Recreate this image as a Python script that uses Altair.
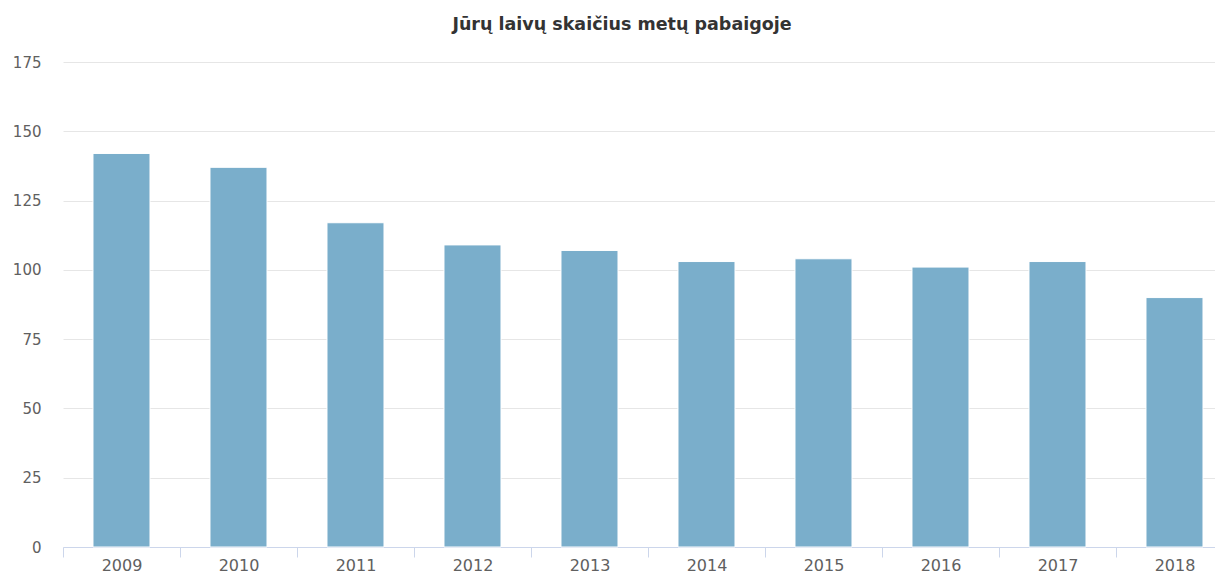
import altair as alt
import pandas as pd

years = [2009, 2010, 2011, 2012, 2013, 2014, 2015, 2016, 2017, 2018]
ships = [142, 137, 117, 109, 107, 103, 104, 101, 103, 90]
y_ticks = [0, 25, 50, 75, 100, 125, 150, 175]
# x axis: category boundaries (ticks) and category centres (labels)
x_axis_values = sorted([y - 0.5 for y in years] + years)

df = pd.DataFrame({"year": years, "ships": ships})

FONT = "DejaVu Sans"

chart = alt.Chart(df).mark_bar(color="#7aaecb", stroke="#ffffff", strokeWidth=1,
                               width=57).encode(
    x=alt.X("year:Q", title=None,
            scale=alt.Scale(domain=[2008.5, 2018.3462], nice=False, zero=False, padding=0),
            axis=alt.Axis(values=x_axis_values, labelAngle=0,
                          labelExpr="datum.value % 1 == 0 ? format(datum.value, 'd') : ''",
                          tickOpacity={"condition": {"test": "datum.value % 1 == 0", "value": 0},
                                       "value": 1},
                          domainColor="#ccd6eb", tickColor="#ccd6eb",
                          tickSize=10, labelPadding=0, labelFlush=False, labelOverlap=False,
                          labelFont=FONT, labelFontSize=16, labelColor="#606060",
                          grid=False)),
    y=alt.Y("ships:Q", title=None,
            scale=alt.Scale(domain=[0, 175], nice=False),
            axis=alt.Axis(values=y_ticks, domain=False, ticks=False, labelPadding=22,
                          labelFont=FONT, labelFontSize=15, labelColor="#606060",
                          gridColor="#e6e6e6", gridWidth=1)),
).properties(
    width=1152,
    height=485,
    autosize=alt.AutoSizeParams(type="none"),
    padding={"left": 55, "top": 54, "right": 0, "bottom": 26},
    title=alt.TitleParams("Jūrų laivų skaičius metų pabaigoje", font=FONT, fontSize=17.5,
                          fontWeight="bold", color="#333333", anchor="middle",
                          dx=-17, offset=22),
).configure_view(stroke=None)

chart.save("out.html", embed_options={"renderer": "svg", "actions": False})
